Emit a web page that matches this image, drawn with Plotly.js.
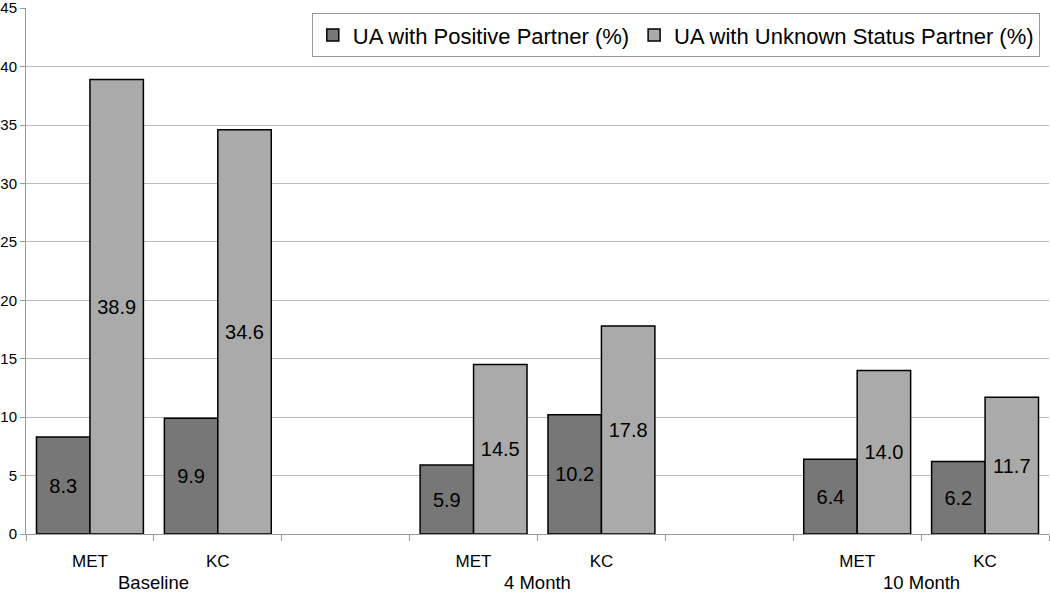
<!DOCTYPE html>
<html>
<head>
<meta charset="utf-8">
<script src="https://cdn.plot.ly/plotly-3.0.1.min.js"></script>
<style>html,body{margin:0;padding:0;background:#fff;}#chart{width:1050px;height:594px;}</style>
</head>
<body>
<div id="chart"></div>
<script>
// Slot positions: MET, KC, (gap), MET, KC, (gap), MET, KC
const slotPositions = [0, 1, 3, 4, 6, 7];
const categoryLabels = ["MET", "KC", "MET", "KC", "MET", "KC"];
const groupLabels = ["Baseline", "4 Month", "10 Month"];
const groupCenters = [0.5, 3.5, 6.5];
const positivePartner = [8.3, 9.9, 5.9, 10.2, 6.4, 6.2];
const unknownPartner = [38.9, 34.6, 14.5, 17.8, 14.0, 11.7];
const seriesNames = ["UA with Positive Partner (%)", "UA with Unknown Status Partner (%)"];

const FONT = "Liberation Sans, Arial, sans-serif";

const fmt = v => v.toFixed(1);

const traces = [
  {
    type: "bar", name: seriesNames[0], x: slotPositions, y: positivePartner,
    text: positivePartner.map(fmt), textposition: "inside", insidetextanchor: "middle",
    textfont: {family: FONT, size: 20, color: "#000"},
    marker: {color: "#777777", line: {color: "#000", width: 1.5}},
    hoverinfo: "skip"
  },
  {
    type: "bar", name: seriesNames[1], x: slotPositions, y: unknownPartner,
    text: unknownPartner.map(fmt), textposition: "inside", insidetextanchor: "middle",
    textfont: {family: FONT, size: 20, color: "#000"},
    marker: {color: "#aaaaaa", line: {color: "#000", width: 1.5}},
    hoverinfo: "skip"
  }
];

const annotations = groupLabels.map((g, i) => ({
  text: g, x: groupCenters[i], xref: "x", y: -0.093, yref: "paper",
  showarrow: false, xanchor: "center", yanchor: "middle",
  font: {family: FONT, size: 18.5, color: "#000"}
}));

const layout = {
  width: 1050, height: 594,
  margin: {l: 26, r: 1, t: 8, b: 60},
  paper_bgcolor: "#fff", plot_bgcolor: "#fff",
  font: {family: FONT, color: "#000"},
  barmode: "group", bargap: 0.164, bargroupgap: 0,
  showlegend: true,
  legend: {
    orientation: "h", x: 0.991, xanchor: "right", y: 0.99, yanchor: "top",
    bordercolor: "#999", borderwidth: 1, bgcolor: "#fff",
    font: {family: FONT, size: 22, color: "#000"},
    itemwidth: 30, tracegroupgap: 0
  },
  xaxis: {
    range: [-0.5, 7.5], tickvals: slotPositions, ticktext: categoryLabels,
    ticks: "", ticklabelstandoff: 12,
    tickfont: {family: FONT, size: 17, color: "#000"},
    showgrid: false, zeroline: false,
    showline: true, linecolor: "#999", linewidth: 1,
    minor: {tick0: -0.5, dtick: 1, ticks: "outside", ticklen: 6, tickcolor: "#999", showgrid: false}
  },
  yaxis: {
    range: [0, 45.02], tickvals: [0, 5, 10, 15, 20, 25, 30, 35, 40, 45],
    ticks: "outside", ticklen: 5, tickcolor: "#999", ticklabeloverflow: "allow",
    tickfont: {family: FONT, size: 15, color: "#000"},
    showgrid: true, gridcolor: "#bbbbbb", gridwidth: 1,
    zeroline: false, showline: true, linecolor: "#999", linewidth: 1
  },
  annotations: annotations
};

Plotly.newPlot("chart", traces, layout, {staticPlot: true, displayModeBar: false});
</script>
</body>
</html>
